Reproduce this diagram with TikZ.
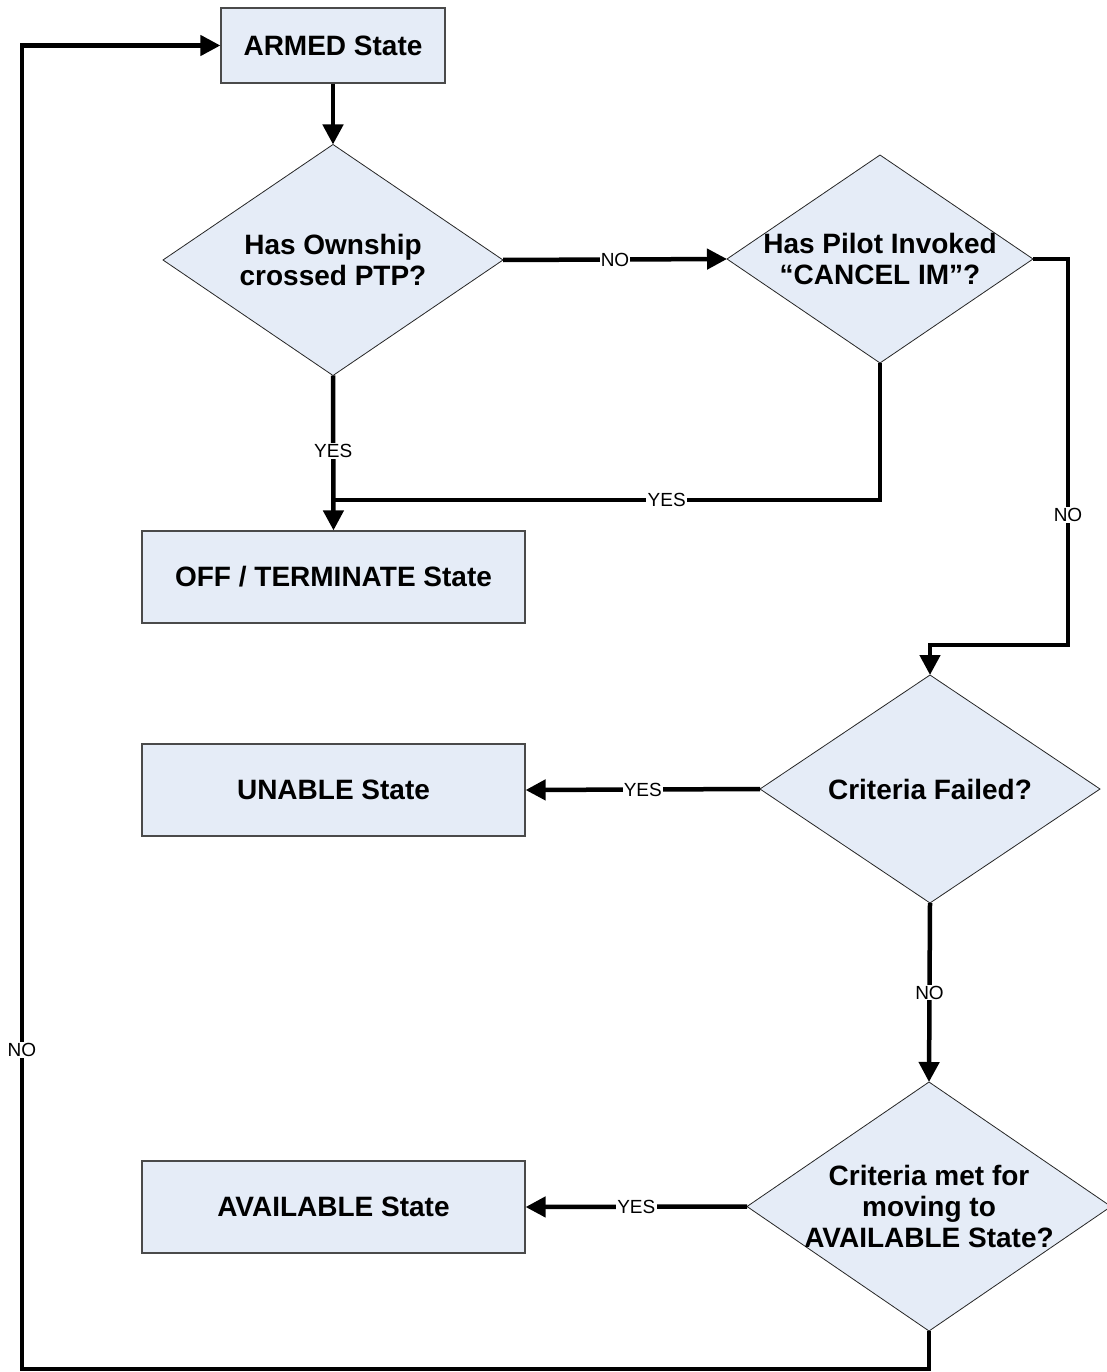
\documentclass[tikz,border=0pt]{standalone}
\usepackage{fontspec}
\setmainfont{Liberation Sans}
\usetikzlibrary{shapes.geometric,arrows.meta}
\definecolor{boxfill}{HTML}{E5ECF7}
\definecolor{boxline}{HTML}{4A4A4A}

\begin{document}
\begin{tikzpicture}[x=1pt,y=-1pt,
  statebox/.style={rectangle, draw=boxline, line width=1.2pt, fill=boxfill,
    minimum width=383pt, minimum height=92pt, inner sep=0pt,
    font=\fontsize{28}{31}\selectfont\bfseries, align=center},
  decision/.style={diamond, draw=black!85, line width=0.8pt, fill=boxfill,
    inner sep=0pt, outer sep=0pt},
  dtext/.style={font=\fontsize{28}{31}\selectfont\bfseries, align=center, inner sep=0pt},
  flow/.style={line width=4.5pt, line join=miter, -{Triangle[length=20pt,width=20pt]}},
  plain/.style={line width=4.5pt, line join=miter},
  lbl/.style={fill=white, font=\fontsize{19}{22}\selectfont, inner sep=1.2pt}]

\useasboundingbox (0,0) rectangle (1106,1372);

% states
\node[statebox, minimum width=224pt, minimum height=75pt] (armed) at (333,45.5) {ARMED State};
\node[statebox] (off) at (333.5,577) {OFF / TERMINATE State};
\node[statebox] (unable) at (333.5,790) {UNABLE State};
\node[statebox] (avail) at (333.5,1207) {AVAILABLE State};

% decisions
\node[decision, minimum width=340pt, minimum height=231pt,
  label={[dtext]center:Has Ownship\\crossed PTP?}] (d1) at (333,260) {};
\node[decision, minimum width=306pt, minimum height=208pt,
  label={[dtext]center:Has Pilot Invoked\\“CANCEL IM”?}] (d2) at (880,259) {};
\node[decision, minimum width=340pt, minimum height=228pt,
  label={[dtext]center:Criteria Failed?}] (d3) at (930,789) {};
\node[decision, minimum width=364pt, minimum height=249pt,
  label={[dtext]center:Criteria met for\\moving to\\AVAILABLE State?}] (d4) at (929,1206.5) {};

% routing points
\coordinate (j1) at (333,500);
\coordinate (c1) at (880,500);
\coordinate (r1) at (1068,259);
\coordinate (r2) at (1068,645);
\coordinate (r3) at (930,645);
\coordinate (b1) at (929,1369);
\coordinate (b2) at (22,1369);
\coordinate (b3) at (22,45.5);

% connectors
\draw[flow] (armed.south) -- (d1.north);
\draw[flow] (d1.east) -- node[lbl] {NO} (d2.west);
\draw[flow] (d1.south) -- node[lbl, pos=0.49] {YES} (off.north);
\draw[plain] (d2.south) -- (c1) -- node[lbl, pos=0.39] {YES} (j1);
\draw[flow] (d2.east) -- (r1) -- node[lbl, pos=0.663] {NO} (r2) -- (r3) -- (d3.north);
\draw[flow] (d3.west) -- node[lbl] {YES} (unable.east);
\draw[flow] (d3.south) -- node[lbl] {NO} (d4.north);
\draw[flow] (d4.west) -- node[lbl] {YES} (avail.east);
\draw[flow] (d4.south) -- (b1) -- (b2) -- node[lbl, pos=0.241] {NO} (b3) -- (armed.west);

\end{tikzpicture}
\end{document}
